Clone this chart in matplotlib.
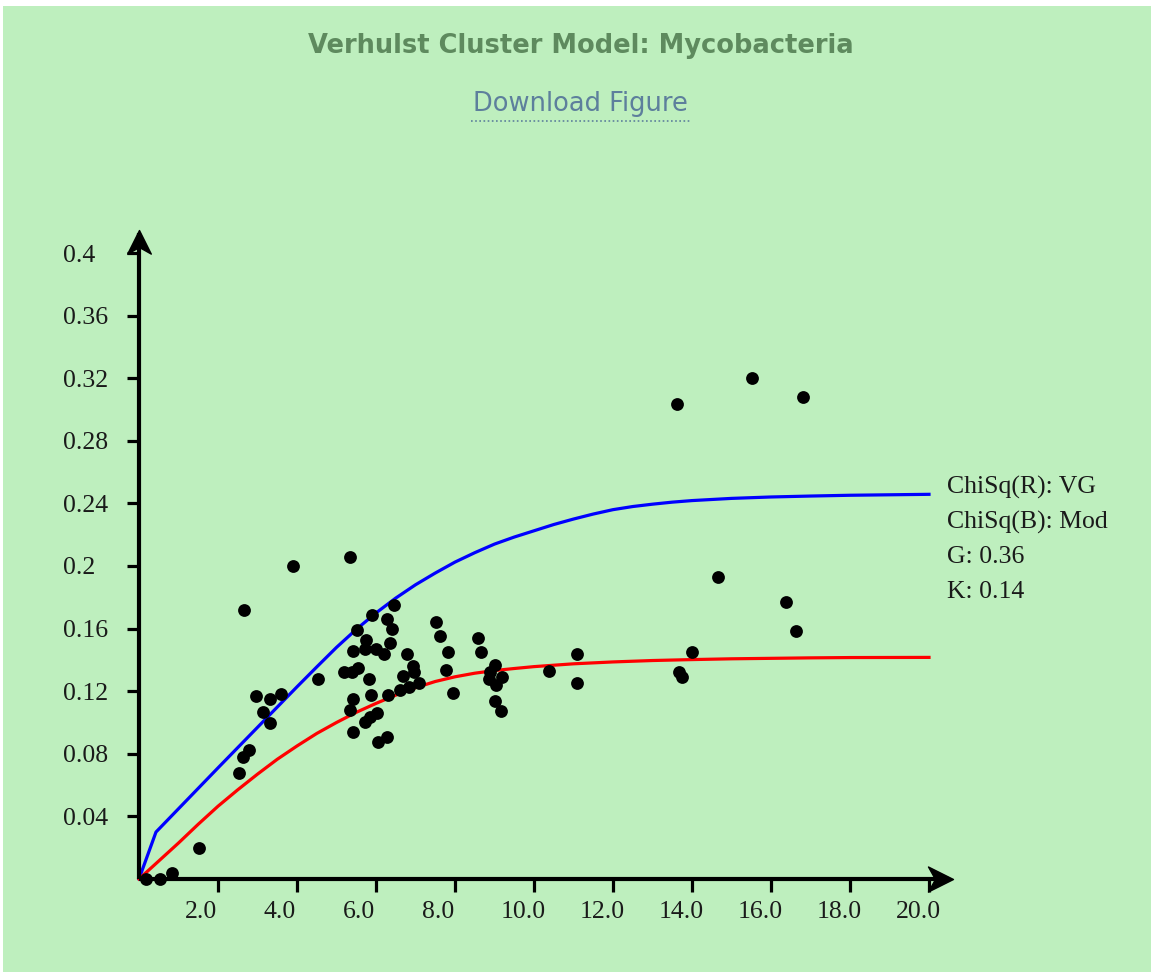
import matplotlib
matplotlib.use("Agg")
import matplotlib.pyplot as plt
from matplotlib.path import Path
from matplotlib.patches import Rectangle
from matplotlib.lines import Line2D
from matplotlib.transforms import ScaledTranslation, Affine2D

# Du lieu doc tu hinh
pts_x = [0.18, 0.53, 0.83, 1.52, 2.53, 2.64, 2.79, 2.67, 2.96, 3.32, 3.59, 3.13, 3.32, 3.91,
         4.52, 5.34, 6.46, 5.89, 6.29, 6.41, 5.51, 5.74, 6.35, 5.72, 5.41, 6.00, 6.19, 6.78,
         6.93, 6.95, 6.69, 7.10, 6.84, 6.61, 5.18, 5.38, 5.55, 5.82, 5.87, 6.31, 5.43, 5.33,
         6.02, 5.85, 5.72, 5.43, 6.27, 6.06, 7.52, 7.62, 7.83, 7.77, 7.94, 8.57, 8.67, 9.01,
         8.89, 9.18, 8.87, 9.05, 9.01, 9.16, 10.37, 11.10, 11.10, 13.99, 13.68, 13.74, 14.67,
         16.37, 16.63, 13.61, 15.52, 16.82]
pts_y = [0.000, 0.000, 0.004, 0.0196, 0.068, 0.078, 0.0824, 0.172, 0.117, 0.115, 0.118, 0.1065,
         0.100, 0.200, 0.128, 0.206, 0.175, 0.169, 0.166, 0.160, 0.159, 0.153, 0.151, 0.147,
         0.146, 0.147, 0.144, 0.144, 0.136, 0.132, 0.130, 0.125, 0.123, 0.121, 0.1325, 0.1325,
         0.1346, 0.128, 0.1176, 0.1176, 0.115, 0.108, 0.1063, 0.1037, 0.1005, 0.094, 0.0905,
         0.0877, 0.164, 0.155, 0.145, 0.1336, 0.1186, 0.154, 0.145, 0.137, 0.132, 0.129, 0.128,
         0.124, 0.114, 0.1075, 0.133, 0.144, 0.1254, 0.145, 0.132, 0.129, 0.193, 0.177, 0.1585,
         0.3036, 0.320, 0.308]

# duong xanh (ChiSq B) doc tu hinh
blue_x = [0, 0.43, 2, 4, 4.5, 5, 5.5, 6, 6.5, 7, 7.5, 8, 8.5, 9, 9.5, 10, 10.5, 11, 11.5,
          12, 12.5, 13, 13.5, 14, 15, 16, 17, 18, 19, 20]
blue_y = [0, 0.030, 0.071, 0.1228, 0.1355, 0.148, 0.1595, 0.170, 0.1795, 0.188, 0.1955,
          0.2025, 0.2085, 0.214, 0.2185, 0.2225, 0.2265, 0.230, 0.2332, 0.236, 0.238, 0.2395,
          0.2408, 0.2418, 0.2432, 0.2441, 0.2447, 0.2452, 0.2455, 0.2458]

# duong do (ChiSq R) doc tu hinh
red_x = [0, 0.5, 1, 1.5, 2, 2.5, 3, 3.5, 4, 4.5, 5, 5.5, 6, 6.5, 7, 7.5, 8, 8.5, 9, 9.5,
         10, 11, 12, 13, 14, 15, 16, 17, 18, 20]
red_y = [0, 0.0115, 0.023, 0.035, 0.0465, 0.057, 0.067, 0.0765, 0.085, 0.093, 0.100, 0.1065,
         0.1122, 0.1175, 0.1222, 0.1262, 0.1292, 0.1315, 0.1332, 0.1345, 0.1357, 0.1375,
         0.1387, 0.1396, 0.1402, 0.1407, 0.141, 0.1413, 0.1415, 0.1416]

x_ticks = [2, 4, 6, 8, 10, 12, 14, 16, 18, 20]
x_labels = ['2.0', '4.0', '6.0', '8.0', '10.0', '12.0', '14.0', '16.0', '18.0', '20.0']
y_ticks = [0.04, 0.08, 0.12, 0.16, 0.2, 0.24, 0.28, 0.32, 0.36, 0.4]
y_labels = ['0.04', '0.08', '0.12', '0.16', '0.2', '0.24', '0.28', '0.32', '0.36', '0.4']

info_lines = ['ChiSq(R): VG', 'ChiSq(B): Mod', 'G: 0.36', 'K: 0.14']

W, H = 1151, 972
bg = '#beefbe'
serif = 'Liberation Serif'

fig = plt.figure(figsize=(W / 100, H / 100), dpi=100, facecolor='white')
# nen xanh (vien trang mong o tren va ben trai)
fig.patches.append(Rectangle((3 / W, 0), 1 - 3 / W, (H - 6) / H, transform=fig.transFigure,
                             facecolor=bg, edgecolor='none', zorder=-10))

# tieu de va link
fig.text(581 / W, 1 - 46 / H, 'Verhulst Cluster Model: Mycobacteria', ha='center', va='center',
         fontsize=18.5, fontweight='bold', color='#5e8a5e', family='DejaVu Sans')
fig.text(580 / W, 1 - 104 / H, 'Download Figure', ha='center', va='center',
         fontsize=18.5, color='#5d7f9c', family='DejaVu Sans')
fig.lines.append(Line2D([471 / W, 690 / W], [1 - 121 / H, 1 - 121 / H], transform=fig.transFigure,
                        color='#5d7f9c', lw=1.2, linestyle=(0, (1, 1.5))))

# truc toa do: goc (139, 879), x=20 tai 929, y=0.4 tai 253
ax = fig.add_axes([139 / W, (H - 879) / H, 790 / W, 626 / H])
ax.set_facecolor('none')
ax.set_xlim(0, 20)
ax.set_ylim(0, 0.4)
for s in ax.spines.values():
    s.set_visible(False)

ax.plot(blue_x, blue_y, color='#0000ff', lw=2.3, zorder=3, clip_on=False)
ax.plot(red_x, red_y, color='#ff0000', lw=2.3, zorder=3, clip_on=False)
ax.scatter(pts_x, pts_y, s=85, color='black', zorder=4, clip_on=False, linewidths=0)

# duong truc voi mui ten
head = Path([(0, 0), (-1, 0.5), (-0.72, 0), (-1, -0.5), (0, 0)],
            [Path.MOVETO, Path.LINETO, Path.LINETO, Path.LINETO, Path.CLOSEPOLY])
ax.plot([0, 20.5], [0, 0], color='black', lw=3, clip_on=False, zorder=5, solid_capstyle='butt')
ax.plot([0, 0], [0, 0.413], color='black', lw=3, clip_on=False, zorder=5, solid_capstyle='butt')
ax.plot([20.62], [0], marker=head, markersize=36, color='black', clip_on=False, zorder=6)
up = head.transformed(Affine2D().rotate_deg(90))
ax.plot([0], [0.4148], marker=up, markersize=34, color='black', clip_on=False, zorder=6)

ax.set_xticks(x_ticks)
ax.set_xticklabels(x_labels)
ax.set_yticks(y_ticks)
ax.set_yticklabels(y_labels)
ax.tick_params(axis='both', direction='out', length=9, width=2.3, color='black',
               labelsize=18.5, labelcolor='#1a1a1a')
ax.tick_params(axis='x', pad=7)
ax.tick_params(axis='y', pad=46)
for lab in ax.get_xticklabels():
    lab.set_family(serif)
    lab.set_ha('left')
    lab.set_transform(lab.get_transform() + ScaledTranslation(-0.33, 0, fig.dpi_scale_trans))
for lab in ax.get_yticklabels():
    lab.set_family(serif)
    lab.set_ha('left')

# chu thich ben phai
for i, t in enumerate(info_lines):
    fig.text(947 / W, 1 - (487 + 35 * i) / H, t, ha='left', va='center',
             fontsize=18.5, family=serif, color='#1a1a1a')

fig.savefig('out.png', dpi=100, facecolor='white')
